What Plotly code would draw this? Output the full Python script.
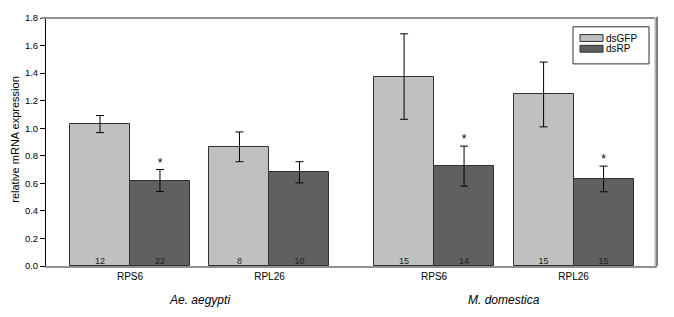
import plotly.graph_objects as go

species = ["Ae. aegypti", "M. domestica"]
genes = ["RPS6", "RPL26", "RPS6", "RPL26"]
series_names = ["dsGFP", "dsRP"]
dsgfp_vals = [1.03, 0.865, 1.375, 1.245]
dsgfp_err = [0.062, 0.108, 0.31, 0.235]
dsrp_vals = [0.62, 0.68, 0.725, 0.632]
dsrp_err = [0.08, 0.077, 0.145, 0.093]
dsgfp_n = ["12", "8", "15", "15"]
dsrp_n = ["22", "10", "14", "15"]
dsrp_sig = [True, False, True, True]

colors = ["#c0c0c0", "#606060"]

# layout positions of the gene groups (extra gap between species)
species_gap = 0.18
pos = [0, 1, 2 + species_gap, 3 + species_gap]
bw = 0.43
gfp_x = [p - bw / 2 for p in pos]
rp_x = [p + bw / 2 for p in pos]

font = "Liberation Sans, Arial, sans-serif"

fig = go.Figure()
fig.add_trace(go.Bar(
    x=gfp_x, y=dsgfp_vals, width=bw, name=series_names[0], showlegend=False,
    marker=dict(color=colors[0], line=dict(color="#303030", width=1)),
    error_y=dict(type="data", array=dsgfp_err, color="black", thickness=1, width=4),
))
fig.add_trace(go.Bar(
    x=rp_x, y=dsrp_vals, width=bw, name=series_names[1], showlegend=False,
    marker=dict(color=colors[1], line=dict(color="#303030", width=1)),
    error_y=dict(type="data", array=dsrp_err, color="black", thickness=1, width=4),
))
# sample sizes
fig.add_trace(go.Scatter(
    x=gfp_x + rp_x, y=[0] * 8, mode="text", text=dsgfp_n + dsrp_n,
    textposition="top center", textfont=dict(size=9, color="#222", family=font),
    showlegend=False, hoverinfo="skip", cliponaxis=False,
))
# significance stars
sx = [x for x, s in zip(rp_x, dsrp_sig) if s]
sy = [v + e for v, e, s in zip(dsrp_vals, dsrp_err, dsrp_sig) if s]
fig.add_trace(go.Scatter(
    x=sx, y=sy, mode="text", text=["*"] * len(sx),
    textposition="top center", textfont=dict(size=12, color="black", family=font),
    showlegend=False, hoverinfo="skip", cliponaxis=False,
))

fig.update_layout(
    width=674, height=317,
    margin=dict(l=46, r=17, t=12, b=51),
    plot_bgcolor="white", paper_bgcolor="white",
    barmode="overlay", bargap=0,
    font=dict(family=font, size=10, color="black"),
    showlegend=False,
    xaxis=dict(range=[-0.602, 3.778], tickmode="array",
               tickvals=pos, ticktext=genes, showgrid=False, zeroline=False,
               showline=True, linecolor="#909090", linewidth=2, ticks="",
               tickfont=dict(size=10)),
    yaxis=dict(range=[0, 1.8], dtick=0.2, tickformat=".1f", showgrid=False,
               zeroline=False, showline=True, linecolor="black", linewidth=1,
               ticks="outside", ticklen=5, tickcolor="black", tickfont=dict(size=9.5)),
)

# frame (top / right)
fig.add_shape(type="line", xref="paper", yref="paper", x0=-0.008, x1=0.997, y0=1, y1=1,
              line=dict(color="#909090", width=2))
fig.add_shape(type="line", xref="paper", yref="paper", x0=0.997, x1=0.997, y0=0, y1=1,
              line=dict(color="#909090", width=1))
fig.add_shape(type="line", xref="paper", yref="paper", x0=1.0, x1=1.0, y0=0, y1=1.005,
              line=dict(color="black", width=1))

# legend (drawn manually to match the wide swatches)
def px_x(p):
    return (p - 46) / 611

def px_y(p):
    return (266 - p) / 254

fig.add_shape(type="rect", xref="paper", yref="paper", x0=px_x(573), x1=px_x(649),
              y0=px_y(59), y1=px_y(21), line=dict(color="#303030", width=1),
              fillcolor="white", layer="above")
sw_rows = [(29, 36), (40, 47)]
for (t, b), c, nm in zip(sw_rows, colors, series_names):
    fig.add_shape(type="rect", xref="paper", yref="paper", x0=px_x(580), x1=px_x(603),
                  y0=px_y(b), y1=px_y(t), line=dict(color="#303030", width=1),
                  fillcolor=c, layer="above")
    fig.add_annotation(text=nm, xref="paper", yref="paper", x=px_x(605),
                       y=px_y((t + b) / 2), xanchor="left", yanchor="middle",
                       showarrow=False, font=dict(size=10), borderpad=0)

# y axis title
fig.add_annotation(text="relative mRNA expression", xref="paper", yref="paper",
                   x=-0.052, y=0.51, xanchor="center", yanchor="middle",
                   textangle=-90, showarrow=False, font=dict(size=11))
# species labels
for i, sp in enumerate(species):
    cx = (pos[2 * i] + pos[2 * i + 1]) / 2
    fig.add_annotation(text="<i>" + sp + "</i>", x=cx, xref="x", yref="paper",
                       y=-0.1, yanchor="top", showarrow=False, font=dict(size=12))

fig.write_html("out.html", post_script="document.body.style.margin='0px';",
               config={"displayModeBar": False})
